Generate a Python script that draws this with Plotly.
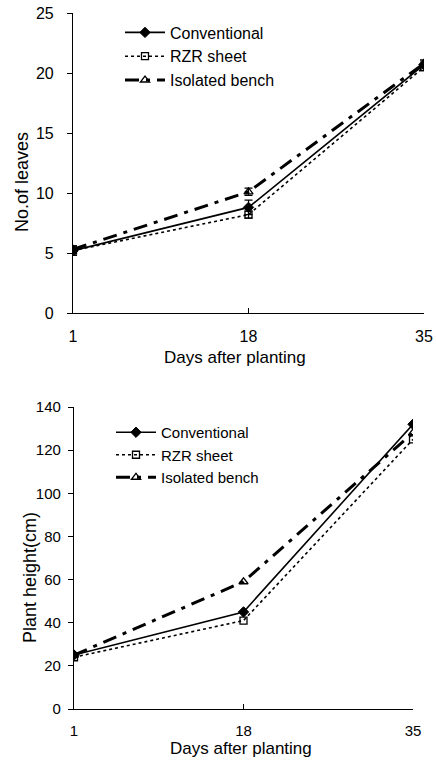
import plotly.graph_objects as go

days = [1, 18, 35]
tick_labels = ["1", "18", "35"]

# Top panel: number of leaves
leaves_conv = [5.2, 8.8, 20.7]
leaves_conv_err = [0.4, 0.6, 0.3]
leaves_rzr = [5.2, 8.2, 20.5]
leaves_rzr_err = [0.2, 0.3, 0.3]
leaves_iso = [5.3, 10.1, 20.8]
leaves_iso_err = [0.3, 0.3, 0.3]

# Bottom panel: plant height (cm)
height_conv = [25, 45, 132]
height_rzr = [24, 41, 125]
height_iso = [25, 59, 128]

series_names = ["Conventional", "RZR sheet", "Isolated bench"]

FONT = "Liberation Sans, Arial, sans-serif"
styles = [
    dict(line=dict(color="black", width=1.6, dash="solid"),
         marker=dict(symbol="diamond", size=8, color="black", line=dict(color="black", width=1))),
    dict(line=dict(color="black", width=1.6, dash="dot"),
         marker=dict(symbol="square-open", size=7, color="black", line=dict(color="black", width=1.3))),
    dict(line=dict(color="black", width=3, dash="14px,7px,4px,7px"),
         marker=dict(symbol="triangle-up-open", size=8, color="black", line=dict(color="black", width=1.3))),
]

fig = go.Figure()

top_data = [(leaves_conv, leaves_conv_err), (leaves_rzr, leaves_rzr_err), (leaves_iso, leaves_iso_err)]
for name, (vals, err), st in zip(series_names, top_data, styles):
    fig.add_trace(go.Scatter(
        x=days, y=vals, name=name, mode="lines+markers",
        error_y=dict(type="data", array=err, color="black", thickness=1.2, width=4),
        xaxis="x", yaxis="y", legend="legend", **st))

bot_data = [height_conv, height_rzr, height_iso]
for name, vals, st in zip(series_names, bot_data, styles):
    fig.add_trace(go.Scatter(
        x=days, y=vals, name=name, mode="lines+markers",
        xaxis="x2", yaxis="y2", legend="legend2", **st))

W, H = 436, 760
def px_x(p): return p / W
def px_y(p): return 1 - p / H

axis_common = dict(showline=True, linecolor="black", linewidth=1.2, showgrid=False,
                   zeroline=False, tickcolor="black", ticklen=5, automargin=False)

fig.update_layout(
    width=W, height=H,
    margin=dict(l=0, r=0, t=0, b=0, pad=0, autoexpand=False),
    paper_bgcolor="white", plot_bgcolor="white",
    font=dict(family=FONT, size=15, color="black"),
    xaxis=dict(domain=[px_x(73), px_x(424)], anchor="y", range=[1, 35], ticks="inside",
               tickvals=days, ticktext=tick_labels, ticklabelstandoff=9,
               tickfont=dict(family=FONT, size=16, color="black"), **axis_common),
    yaxis=dict(domain=[px_y(313), px_y(13)], anchor="x", range=[0, 25], ticks="outside",
               tickvals=[0, 5, 10, 15, 20, 25], ticklabelstandoff=10,
               tickfont=dict(family=FONT, size=16, color="black"), **axis_common),
    xaxis2=dict(domain=[px_x(74), px_x(413)], anchor="y2", range=[1, 35], ticks="inside",
                tickvals=days, ticktext=tick_labels, ticklabelstandoff=8,
                tickfont=dict(family=FONT, size=15, color="black"), **axis_common),
    yaxis2=dict(domain=[px_y(709), px_y(407)], anchor="x2", range=[0, 140], ticks="outside",
                tickvals=[0, 20, 40, 60, 80, 100, 120, 140], ticklabelstandoff=4,
                tickfont=dict(family=FONT, size=15, color="black"), **axis_common),
    legend=dict(x=px_x(120), y=px_y(15.5), xanchor="left", yanchor="top",
                bgcolor="rgba(0,0,0,0)", font=dict(family=FONT, size=16),
                tracegroupgap=0, itemwidth=40),
    legend2=dict(x=px_x(111), y=px_y(416), xanchor="left", yanchor="top",
                 bgcolor="rgba(0,0,0,0)", font=dict(family=FONT, size=15),
                 tracegroupgap=0, itemwidth=40),
    showlegend=True,
    annotations=[
        dict(text="Days after planting", x=px_x(235), y=px_y(357), xref="paper", yref="paper",
             xanchor="center", yanchor="middle",
             showarrow=False, font=dict(family=FONT, size=17)),
        dict(text="No.of leaves", x=px_x(22), y=px_y(182), xref="paper", yref="paper",
             xanchor="center", yanchor="middle",
             showarrow=False, textangle=-90, font=dict(family=FONT, size=18)),
        dict(text="Days after planting", x=px_x(241), y=0, xref="paper", yref="paper",
             xanchor="center", yanchor="bottom",
             showarrow=False, font=dict(family=FONT, size=17)),
        dict(text="Plant height(cm)", x=px_x(30), y=px_y(578), xref="paper", yref="paper",
             xanchor="center", yanchor="middle",
             showarrow=False, textangle=-90, font=dict(family=FONT, size=18)),
    ],
)

fig.write_html("out.html")
